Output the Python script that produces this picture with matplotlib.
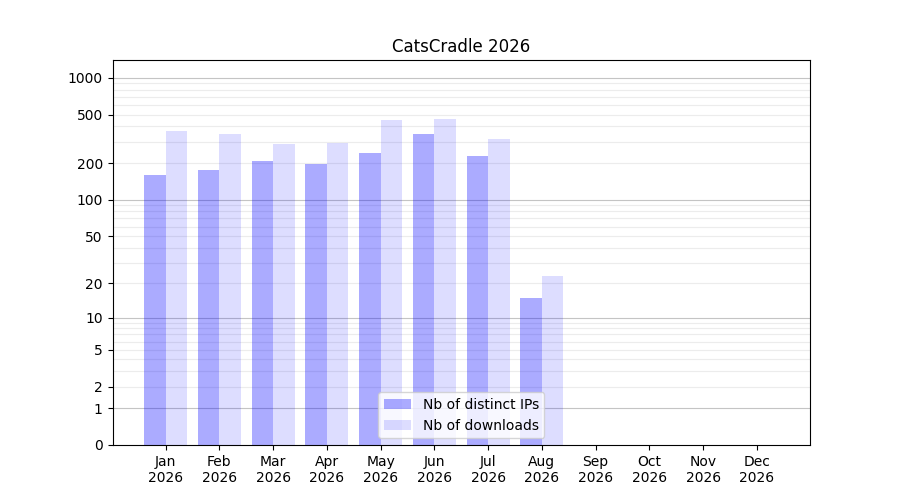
import numpy as np
import matplotlib
matplotlib.use('Agg')
import matplotlib.pyplot as plt

# Données mensuelles
months = ['Jan', 'Feb', 'Mar', 'Apr', 'May', 'Jun', 'Jul', 'Aug', 'Sep', 'Oct', 'Nov', 'Dec']
year = '2026'
distinct_ips = [161, 176, 209, 198, 243, 348, 230, 15, 0, 0, 0, 0]
downloads = [369, 348, 288, 294, 453, 462, 317, 23, 0, 0, 0, 0]
ytick_values = [0, 1, 2, 5, 10, 20, 50, 100, 200, 500, 1000]

fig, ax = plt.subplots(figsize=(9, 5), dpi=100)

# échelle log(1+x)
ax.set_yscale('function', functions=(lambda v: np.log10(1 + np.clip(v, 0, None)),
                                     lambda v: 10 ** v - 1))

x = np.arange(len(months))
w = 0.4
ax.bar(x - w / 2, distinct_ips, w, color='blue', alpha=0.33, label='Nb of distinct IPs')
ax.bar(x + w / 2, downloads, w, color='blue', alpha=0.135, label='Nb of downloads')

# lignes de grille
for dec in [1, 10, 100, 1000]:
    ax.axhline(dec, color='#c4c4c4', lw=0.8, zorder=0.5)
    for k in range(2, 10):
        v = dec * k
        if v < 1400:
            ax.axhline(v, color='#ececec', lw=0.8, zorder=0.5)

ax.set_ylim(0, 1400)
ax.set_yticks(ytick_values)
ax.set_yticklabels([str(v) for v in ytick_values])
ax.minorticks_off()
ax.set_xticks(x)
ax.set_xticklabels([m + '\n' + year for m in months])
ax.set_title('CatsCradle 2026')
ax.legend(loc='lower center')

fig.savefig('out.png')
